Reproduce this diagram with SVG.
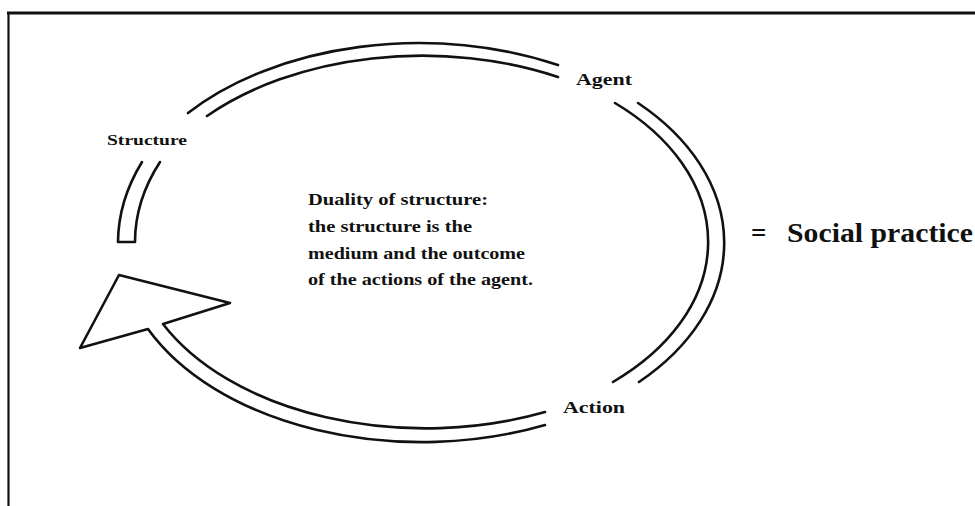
<svg xmlns="http://www.w3.org/2000/svg" width="975" height="506" viewBox="0 0 975 506">
<style>
.ln{fill:none;stroke:#111;stroke-width:2.6;stroke-linecap:round;stroke-linejoin:round}
.lb{font-family:"Liberation Serif","Times New Roman",serif;font-weight:bold;fill:#111}
</style>
<rect width="975" height="506" fill="#fff"/>
<g id="frame">
<line x1="7" y1="13" x2="975" y2="13" stroke="#111" stroke-width="3.2"/>
<line x1="8.5" y1="12" x2="8.5" y2="506" stroke="#111" stroke-width="2.2"/>
</g>
<g id="connectors">
<!-- top arc Structure -> Agent -->
<path class="ln" d="M188 113 A302 196 0 0 1 558 65"/>
<path class="ln" d="M207 116 A292 186 0 0 1 558 77"/>
<!-- right arc Agent -> Action -->
<path class="ln" d="M638 103 A288 196 0 0 1 639 382"/>
<path class="ln" d="M615 103 A278 186 0 0 1 613 382"/>
<!-- bottom arc Action -> arrow -->
<path class="ln" d="M545 425 A302 196 0 0 1 148 329 L80 348 L119 275 L230 303 L163 324 A292 186 0 0 0 545 412"/>
<!-- left segment below Structure -->
<path class="ln" d="M142 162 A340 220 0 0 0 118 242 L135 242 A330 210 0 0 1 160 162"/>
</g>
<g id="structure">
<text class="lb" x="107" y="145" font-size="15.5" textLength="80" lengthAdjust="spacingAndGlyphs">Structure</text>
</g>
<g id="agent">
<text class="lb" x="576" y="85" font-size="16.5" textLength="56" lengthAdjust="spacingAndGlyphs">Agent</text>
</g>
<g id="action">
<text class="lb" x="563" y="413" font-size="16.5" textLength="62" lengthAdjust="spacingAndGlyphs">Action</text>
</g>
<g id="duality">
<text class="lb" x="308" y="205" font-size="17" textLength="180" lengthAdjust="spacingAndGlyphs">Duality of structure:</text>
<text class="lb" x="308" y="232" font-size="17" textLength="164" lengthAdjust="spacingAndGlyphs">the structure is the</text>
<text class="lb" x="308" y="259" font-size="17" textLength="217" lengthAdjust="spacingAndGlyphs">medium and the outcome</text>
<text class="lb" x="308" y="285" font-size="17" textLength="225" lengthAdjust="spacingAndGlyphs">of the actions of the agent.</text>
</g>
<g id="social-practice">
<text class="lb" x="751" y="242" font-size="27">=</text>
<text class="lb" x="787" y="242" font-size="27" textLength="186" lengthAdjust="spacingAndGlyphs">Social practice</text>
</g>
</svg>
